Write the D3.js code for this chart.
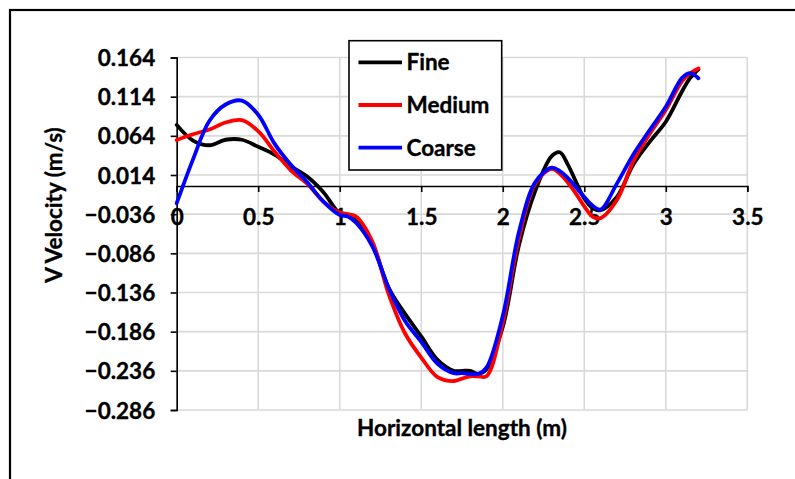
<!DOCTYPE html>
<html>
<head>
<meta charset="utf-8">
<script src="https://cdn.jsdelivr.net/npm/d3@7"></script>
<style>
  html, body { margin: 0; padding: 0; background: #fff; }
  svg { display: block; }
  text { font-family: Lato, "Open Sans", sans-serif; font-weight: bold; fill: #000; stroke: #000; stroke-width: 0.35px; }
</style>
</head>
<body>
<svg id="chart" width="795" height="479"></svg>
<script>
// Horizontal positions (m) shared by the three mesh series
const positions = [0, 0.1, 0.2, 0.3, 0.4, 0.5, 0.6, 0.7, 0.8, 0.9, 1.0, 1.05, 1.1, 1.2, 1.3, 1.4, 1.5,
  1.6, 1.7, 1.75, 1.8, 1.85, 1.9, 2.0, 2.1, 2.2, 2.3, 2.35, 2.4, 2.45, 2.5, 2.55, 2.6, 2.7, 2.8, 2.9,
  3.0, 3.1, 3.15, 3.2];

// V velocity (m/s) for each mesh
const fine = [0.078, 0.058, 0.052, 0.059, 0.059, 0.050, 0.040, 0.025, 0.012, -0.008, -0.035, -0.037, -0.043,
  -0.074, -0.130, -0.163, -0.192, -0.222, -0.236, -0.236, -0.236, -0.240, -0.234, -0.180, -0.075, -0.006,
  0.038, 0.043, 0.027, 0.005, -0.016, -0.028, -0.031, -0.014, 0.027, 0.056, 0.082, 0.121, 0.138, 0.149];
const medium = [0.0587, 0.066, 0.072, 0.081, 0.084, 0.070, 0.044, 0.020, 0.003, -0.020, -0.034, -0.036, -0.039,
  -0.071, -0.138, -0.188, -0.219, -0.244, -0.249, -0.246, -0.243, -0.243, -0.243, -0.175, -0.066, 0.003,
  0.0217, 0.0155, 0.004, -0.010, -0.026, -0.039, -0.041, -0.018, 0.031, 0.066, 0.097, 0.134, 0.144, 0.150];
const coarse = [-0.022, 0.034, 0.083, 0.104, 0.109, 0.091, 0.054, 0.027, 0.005, -0.020, -0.037, -0.039, -0.047,
  -0.077, -0.130, -0.172, -0.199, -0.227, -0.239, -0.239, -0.240, -0.240, -0.232, -0.166, -0.058, 0.005,
  0.0234, 0.019, 0.010, -0.002, -0.014, -0.025, -0.030, 0.003, 0.040, 0.071, 0.101, 0.138, 0.144, 0.1375];

const seriesNames = ["Fine", "Medium", "Coarse"];
const seriesColors = ["#000000", "#ff0000", "#0000ff"];

const xTicks = [0, 0.5, 1, 1.5, 2, 2.5, 3, 3.5];
const yTicks = [-0.286, -0.236, -0.186, -0.136, -0.086, -0.036, 0.014, 0.064, 0.114, 0.164];

const xTitle = "Horizontal length (m)";
const yTitle = "V Velocity (m/s)";

const fontSize = 22.5;
const svg = d3.select("#chart");

// Outer chart frame (continues past the right and bottom edges)
svg.append("rect")
  .attr("x", 10).attr("y", 10).attr("width", 820).attr("height", 520)
  .attr("fill", "none").attr("stroke", "#000").attr("stroke-width", 2.2);

const plot = { left: 176.7, right: 747.3, top: 57.5, bottom: 410 };

const x = d3.scaleLinear().domain([0, 3.5]).range([plot.left, plot.right]);
const y = d3.scaleLinear().domain([-0.286, 0.164]).range([plot.bottom, plot.top]);

// Gridlines
const grid = svg.append("g").attr("stroke", "#d9d9d9").attr("stroke-width", 1.6);
grid.selectAll(".vg").data(xTicks).join("line")
  .attr("x1", d => x(d)).attr("x2", d => x(d))
  .attr("y1", plot.top).attr("y2", plot.bottom);
grid.selectAll(".hg").data(yTicks).join("line")
  .attr("x1", plot.left).attr("x2", plot.right)
  .attr("y1", d => y(d)).attr("y2", d => y(d));

// Y axis at x = 0
const yAxis = d3.axisLeft(y).tickValues(yTicks).tickSize(6).tickPadding(15)
  .tickFormat(d => d3.format(".3f")(d));
const gy = svg.append("g").attr("transform", `translate(${x(0)},0)`).call(yAxis);
gy.select(".domain").attr("stroke", "#000").attr("stroke-width", 1.6);
gy.selectAll(".tick line").attr("stroke", "#000").attr("stroke-width", 1.6);
gy.selectAll(".tick text").attr("font-size", fontSize).attr("font-family", "Lato").attr("font-weight", "bold")
  .attr("fill", "#000").attr("dy", "0.36em").attr("x", -21.5);

// X axis crossing at V = 0
const xAxis = d3.axisBottom(x).tickValues(xTicks).tickSize(6).tickPadding(12)
  .tickFormat(d => String(d));
const gx = svg.append("g").attr("transform", `translate(0,${y(0)})`).call(xAxis);
gx.select(".domain").attr("stroke", "#000").attr("stroke-width", 1.6);
gx.selectAll(".tick line").attr("stroke", "#000").attr("stroke-width", 1.6);
gx.selectAll(".tick text").attr("font-size", fontSize).attr("font-family", "Lato").attr("font-weight", "bold")
  .attr("fill", "#000").attr("dy", null).attr("y", 39.5);

// Smoothed series lines
const line = d3.line()
  .x(d => x(d[0])).y(d => y(d[1]))
  .curve(d3.curveCatmullRom.alpha(0.5));

[fine, medium, coarse].forEach((vals, i) => {
  svg.append("path")
    .datum(positions.map((p, j) => [p, vals[j]]))
    .attr("fill", "none")
    .attr("stroke", seriesColors[i])
    .attr("stroke-width", 3.8)
    .attr("stroke-linejoin", "round")
    .attr("stroke-linecap", "round")
    .attr("d", line);
});

// Axis titles
svg.append("text")
  .attr("x", (plot.left + plot.right) / 2).attr("y", 436)
  .attr("text-anchor", "middle").attr("font-size", fontSize)
  .text(xTitle);

svg.append("text")
  .attr("transform", "translate(61.5,205) rotate(-90)")
  .attr("text-anchor", "middle").attr("font-size", fontSize)
  .text(yTitle);

// Legend
const legend = svg.append("g");
legend.append("rect")
  .attr("x", 349).attr("y", 40.7).attr("width", 152.7).attr("height", 129.3)
  .attr("fill", "#fff").attr("stroke", "#000").attr("stroke-width", 1.6);
const legendY = [62.3, 105, 147.7];
seriesNames.forEach((name, i) => {
  legend.append("line")
    .attr("x1", 358.5).attr("x2", 402).attr("y1", legendY[i]).attr("y2", legendY[i])
    .attr("stroke", seriesColors[i]).attr("stroke-width", 3.8);
  legend.append("text")
    .attr("x", 406.5).attr("y", legendY[i] + 7.8)
    .attr("font-size", fontSize)
    .text(name);
});
</script>
</body>
</html>
